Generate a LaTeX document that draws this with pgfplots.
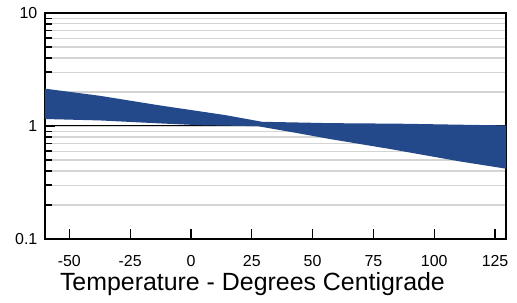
\documentclass[border=0pt]{standalone}
\usepackage{pgfplots}
\pgfplotsset{compat=1.18}
\usepackage{fontspec}
\setmainfont{Liberation Sans}
\definecolor{bandblue}{RGB}{36,73,139}
\definecolor{gridgray}{RGB}{212,212,212}
\begin{document}
\begin{tikzpicture}
\path[use as bounding box] (-45bp,-64bp) rectangle (472bp,239bp);
\begin{axis}[
  scale only axis,
  width=461bp, height=226bp,
  ymode=log,
  xmin=-60, xmax=129.5,
  ymin=0.1, ymax=10,
  xtick={-50,-25,0,25,50,75,100,125},
  xticklabels={-50,-25,0,25,50,75,100,125},
  ytick={0.1,1,10},
  yticklabels={0.1,1,10},
  tick align=inside,
  tick pos=left,
  major tick length=10bp,
  minor tick length=7bp,
  every major tick/.append style={draw=black, line width=1.2bp},
  every minor tick/.append style={draw=black, line width=1.2bp},
  axis line style={line width=1.6bp},
  ymajorgrids, yminorgrids,
  major grid style={black, line width=1bp},
  minor grid style={gridgray, line width=1.1bp},
  /pgf/number format/assume math mode=true,
  ticklabel style={font=\fontsize{16}{18}\selectfont},
  xticklabel style={anchor=base, inner sep=0pt, yshift=-27.5bp},
  yticklabel style={anchor=east, inner sep=0pt, xshift=-7.5bp},
  xlabel={Temperature - Degrees Centigrade},
  xlabel style={font=\fontsize{25}{29}\selectfont, at={(axis description cs:0.45,0)}, anchor=base, yshift=-51bp},
]
\addplot[fill=bandblue, draw=none] coordinates {
  (-60,2.14) (-37.4,1.85) (-12.7,1.52) (14.0,1.25) (29.2,1.09)
  (57.1,1.06) (85.9,1.048) (110.5,1.027) (129.5,1.012)
  (129.5,0.419) (110.5,0.486) (81.8,0.626) (57.1,0.767) (42.7,0.873)
  (27.5,0.996) (3.7,1.016) (-12.7,1.054) (-37.4,1.12) (-60,1.153)
} -- cycle;
\end{axis}
\begin{axis}[
  scale only axis,
  width=461bp, height=226bp,
  xmin=-60, xmax=129.5,
  ymin=0, ymax=1,
  xtick={-50,-25,0,25,50,75,100,125},
  xticklabels={},
  ytick=\empty,
  tick align=inside,
  xtick pos=left,
  major tick length=10bp,
  every major tick/.append style={draw=black, line width=1.2bp},
  axis line style={draw=none},
]
\end{axis}
\end{tikzpicture}
\end{document}
